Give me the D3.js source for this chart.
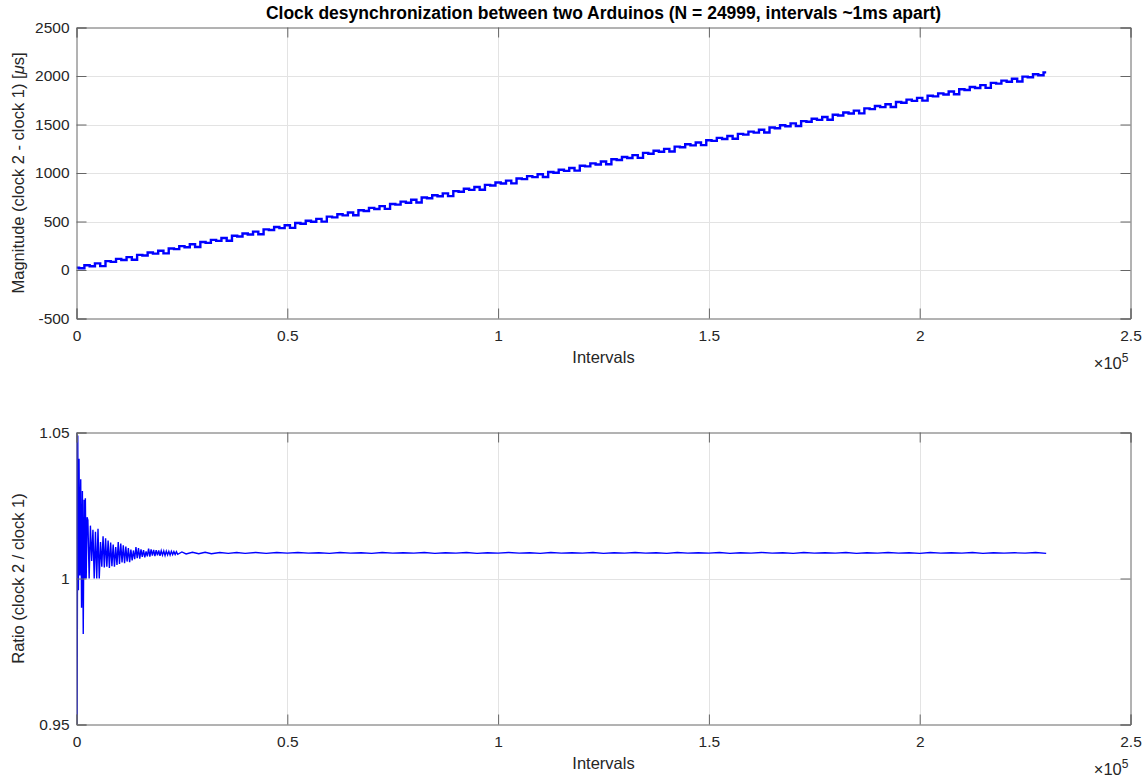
<!DOCTYPE html>
<html lang="en">
<head>
    <meta charset="UTF-8">
    <title>Clock desynchronization</title>
    <script src="https://d3js.org/d3.v7.min.js"></script>
    <style>
        body { margin: 0; background: #fff; }
        svg text { font-family: 'Liberation Sans', Arial, Helvetica, sans-serif; fill: #262626; }
        .tick text { font-size: 15.5px; }
        .axlabel { font-size: 16.5px; }
        .title { font-size: 17.5px; font-weight: bold; fill: #000; }
        .grid line { stroke: #e3e3e3; }
    </style>
</head>
<body>
<svg width="1144" height="776"></svg>
<script>
    // --- data ---
    const xTicks = [0, 50000, 100000, 150000, 200000, 250000];
    const xTickLabels = ["0", "0.5", "1", "1.5", "2", "2.5"];
    const magTicks = [-500, 0, 500, 1000, 1500, 2000, 2500];
    const ratioTicks = [0.95, 1, 1.05];

    // magnitude, sampled every 1250 intervals
    const magX = d3.range(0, 230001, 1250);
    const magY = [25,18,49,38,68,40,91,84,115,103,133,105,156,149,180,169,199,171,222,215,
        246,235,265,237,288,280,311,300,330,302,353,346,377,366,396,368,419,412,443,432,
        462,434,484,477,508,497,527,499,550,543,574,563,593,565,616,609,640,629,659,630,
        681,674,705,694,724,696,747,740,771,760,790,762,813,806,837,826,855,827,878,871,
        902,891,921,893,944,937,968,957,987,959,1010,1003,1033,1022,1052,1024,1075,1068,1099,1088,
        1118,1090,1141,1134,1165,1154,1184,1156,1207,1199,1230,1219,1249,1221,1272,1265,1296,1285,1315,1287,
        1338,1331,1362,1351,1381,1353,1403,1396,1427,1416,1446,1418,1469,1462,1493,1482,1512,1484,1535,1528,
        1559,1548,1577,1549,1600,1593,1624,1613,1643,1615,1666,1659,1690,1679,1709,1681,1732,1725,1756,1744,
        1774,1746,1797,1790,1821,1810,1840,1812,1863,1856,1887,1876,1906,1878,1929,1921,1952,1941,1971,1943,
        1994,1987,2018,2007,2037];

    // ratio: dense near the start, then every 2500 intervals
    const ratioX = [0,150,300,450,600,800,1000,1200,1400,1600,1800,2000,2100,2300,2500,
        2700,3000,3300,3600,3900,4200,4500,4800,5100,5400,5700,6000,6300,6600,6900,7200,7500,7800,
        8100,8400,8700,9000,9300,9600,9900,10200,10500,10800,11100,11400,11700,12000,12300,12600,
        12900,13200,13500,13800,14100,14400,14700,15000,15300,15600,15900,16200,16500,16800,17100,
        17400,17700,18000,18300,18600,18900,19200,19500,19800,20100,20400,20700,21000,21300,21600,
        21900,22200,22500,22800,23100,23400,23700,24000,25000,26000,27500,29000,30500,32000,34000,
        36000,38000,40000,42500,45000,47500,50000].concat(d3.range(52500, 230001, 2500));
    const ratioY = [1.050,0.950,1.049,0.996,1.041,1.001,1.034,0.990,1.030,0.981,1.027,1.000,1.0275,1.000,1.021,
        1.0200,1.0000,1.0181,1.0060,1.0167,1.0000,1.0160,1.0000,1.0170,1.0000,1.0125,1.0040,1.0145,1.0038,
        1.0138,1.0040,1.0130,1.0036,1.0123,1.0042,1.0116,1.0040,1.0108,1.0046,1.0125,1.0050,1.0120,1.0055,
        1.0114,1.0052,1.0109,1.0058,1.0104,1.0056,1.0099,1.0062,1.0096,1.0066,1.0108,1.0070,1.0104,1.0068,
        1.0100,1.0074,1.0097,1.0072,1.0093,1.0076,1.0102,1.0075,1.0100,1.0078,1.0098,1.0077,1.0097,1.0079,
        1.0096,1.0078,1.0095,1.0080,1.0094,1.0079,1.0094,1.0081,1.0093,1.0080,1.0093,1.0082,1.0092,1.0082,
        1.0092,1.0083,1.0091,1.0084,1.0090,1.0085,1.0090,1.0085,1.0089,1.0086,1.0089,1.0086,1.0089,1.0086,
        1.0089,1.0087,
        1.0089,1.0087,1.0088,1.0086,1.0089,1.0087,1.0088,1.0086,1.0089,1.0087,1.0088,1.0087,1.0089,1.0086,
        1.0088,1.0087,1.0089,1.0086,1.0088,1.0087,1.0089,1.0087,1.0088,1.0086,1.0089,1.0087,1.0088,1.0087,
        1.0089,1.0086,1.0088,1.0087,1.0089,1.0087,1.0088,1.0086,1.0089,1.0087,1.0088,1.0087,1.0089,1.0086,
        1.0088,1.0087,1.0089,1.0087,1.0088,1.0086,1.0089,1.0087,1.0088,1.0087,1.0089,1.0086,1.0088,1.0087,
        1.0089,1.0087,1.0088,1.0086,1.0089,1.0087,1.0088,1.0087,1.0089,1.0086,1.0088,1.0087,1.0088,1.0087,
        1.0089,1.0086];

    const svg = d3.select("svg");
    const left = 76.5, right = 1130.5;
    const x = d3.scaleLinear().domain([0, 250000]).range([left, right]);

    drawPanel({
        top: 27.5, bottom: 318.5, domain: [-500, 2500], ticks: magTicks,
        xs: magX, ys: magY, curve: d3.curveStep, width: 2.4,
        ylabel: "Magnitude (clock 2 - clock 1) [<tspan font-style='italic'>μ</tspan>s]",
        id: "top"
    });
    drawPanel({
        top: 432.5, bottom: 724.5, domain: [0.95, 1.05], ticks: ratioTicks,
        xs: ratioX, ys: ratioY, curve: d3.curveLinear, width: 1.4,
        ylabel: "Ratio (clock 2 / clock 1)", id: "bot"
    });

    svg.append("text").attr("class", "title")
        .attr("x", (left + right) / 2).attr("y", 19)
        .attr("text-anchor", "middle")
        .text("Clock desynchronization between two Arduinos (N = 24999, intervals ~1ms apart)");

    function drawPanel(p) {
        const y = d3.scaleLinear().domain(p.domain).range([p.bottom, p.top]);
        const g = svg.append("g");
        const tl = 10;

        // grid
        const grid = g.append("g").attr("class", "grid");
        grid.selectAll(".gx").data(xTicks.slice(1, -1)).join("line")
            .attr("x1", d => Math.round(x(d)) + 0.5).attr("x2", d => Math.round(x(d)) + 0.5)
            .attr("y1", p.top).attr("y2", p.bottom);
        grid.selectAll(".gy").data(p.ticks.slice(1, -1)).join("line").attr("class", "gy")
            .attr("y1", d => Math.round(y(d)) + 0.5).attr("y2", d => Math.round(y(d)) + 0.5)
            .attr("x1", left).attr("x2", right);

        // data
        g.append("clipPath").attr("id", "clip-" + p.id).append("rect")
            .attr("x", left).attr("y", p.top).attr("width", right - left).attr("height", p.bottom - p.top);
        const line = d3.line().x((d, i) => x(p.xs[i])).y(d => y(d)).curve(p.curve);
        g.append("path").datum(p.ys)
            .attr("clip-path", `url(#clip-${p.id})`)
            .attr("fill", "none").attr("stroke", "#0000ff").attr("stroke-width", p.width)
            .attr("d", line);

        // axes with inward ticks on all four sides
        const axB = d3.axisBottom(x).tickValues(xTicks).tickSize(-tl).tickPadding(11)
            .tickFormat((d, i) => xTickLabels[i]);
        const axT = d3.axisTop(x).tickValues(xTicks).tickSize(-tl).tickFormat("");
        const axL = d3.axisLeft(y).tickValues(p.ticks).tickSize(-tl).tickPadding(7).tickFormat(d => d);
        const axR = d3.axisRight(y).tickValues(p.ticks).tickSize(-tl).tickFormat("");
        [[axB, `translate(0,${p.bottom})`], [axT, `translate(0,${p.top})`],
         [axL, `translate(${left},0)`], [axR, `translate(${right},0)`]].forEach(([ax, tr]) => {
            const a = g.append("g").attr("transform", tr).call(ax);
            a.select(".domain").attr("stroke", "#666");
            a.selectAll(".tick line").attr("stroke", "#666");
            a.selectAll(".tick text").attr("fill", "#262626");
        });

        // labels
        g.append("text").attr("class", "axlabel")
            .attr("x", (left + right) / 2).attr("y", p.bottom + 44)
            .attr("text-anchor", "middle").text("Intervals");
        const ex = g.append("text").attr("class", "axlabel")
            .attr("x", right - 2).attr("y", p.bottom + 50).attr("text-anchor", "end");
        ex.append("tspan").text("×10");
        ex.append("tspan").attr("dy", -7).attr("font-size", 12).text("5");
        g.append("text").attr("class", "axlabel")
            .attr("transform", `translate(24,${(p.top + p.bottom) / 2}) rotate(-90)`)
            .attr("text-anchor", "middle").html(p.ylabel);
    }
</script>
</body>
</html>
